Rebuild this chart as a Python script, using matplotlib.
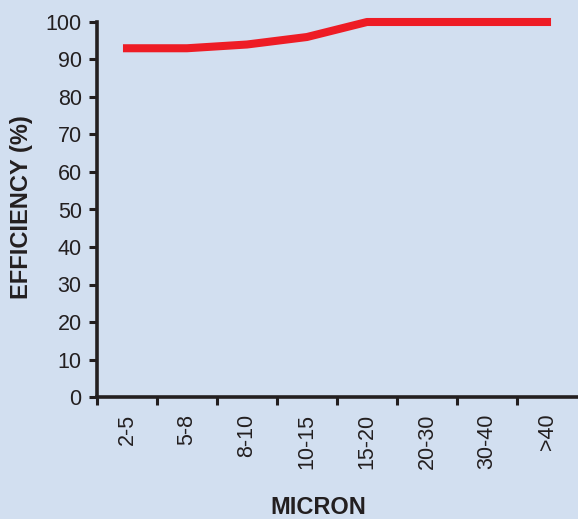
import matplotlib
matplotlib.use("Agg")
import matplotlib.pyplot as plt
import numpy as np

categories = ["2-5", "5-8", "8-10", "10-15", "15-20", "20-30", "30-40", ">40"]
efficiency = [93, 93, 94, 96, 100, 100, 100, 100]
y_ticks = [0, 10, 20, 30, 40, 50, 60, 70, 80, 90, 100]

plt.rcParams['font.family'] = ['Liberation Sans', 'DejaVu Sans']
bg = '#d2dff0'
dark = '#231f20'

W, H = 578, 519
fig = plt.figure(figsize=(W / 100, H / 100), dpi=100, facecolor=bg)
ax = fig.add_axes([97 / W, (H - 397) / H, 480 / W, 375 / H])
ax.set_facecolor(bg)

x = np.arange(len(categories))
ax.plot(x, efficiency, color='#ee1c25', lw=5.8, solid_capstyle='projecting',
        solid_joinstyle='round', clip_on=False, zorder=3)

ax.set_xlim(-0.5, len(categories) - 0.5)
ax.set_ylim(0, 100)

for s in ['top', 'right']:
    ax.spines[s].set_visible(False)
for s in ['left', 'bottom']:
    ax.spines[s].set_color(dark)
    ax.spines[s].set_linewidth(2.6)

ax.set_yticks(y_ticks)
ax.set_yticklabels([str(v) for v in y_ticks])
ax.tick_params(axis='y', direction='out', length=6, width=2.2, color=dark,
               labelsize=15.5, labelcolor=dark, pad=5)

ax.set_xticks(x)
ax.set_xticklabels(categories, rotation=90)
ax.tick_params(axis='x', which='major', length=0, labelsize=15.5,
               labelcolor=dark, pad=12)
ax.set_xticks(np.arange(-0.5, len(categories) - 0.5, 1.0), minor=True)
ax.tick_params(axis='x', which='minor', direction='out', length=6, width=2.2,
               color=dark)

fig.text(22 / W, 1 - 207 / H, "EFFICIENCY (%)", rotation=90, ha='center',
         va='center', fontsize=17, fontweight='bold', color=dark)
fig.text(318 / W, 1 - 508 / H, "MICRON", ha='center', va='center',
         fontsize=17, fontweight='bold', color=dark)

fig.savefig("out.png", dpi=100, facecolor=bg)
